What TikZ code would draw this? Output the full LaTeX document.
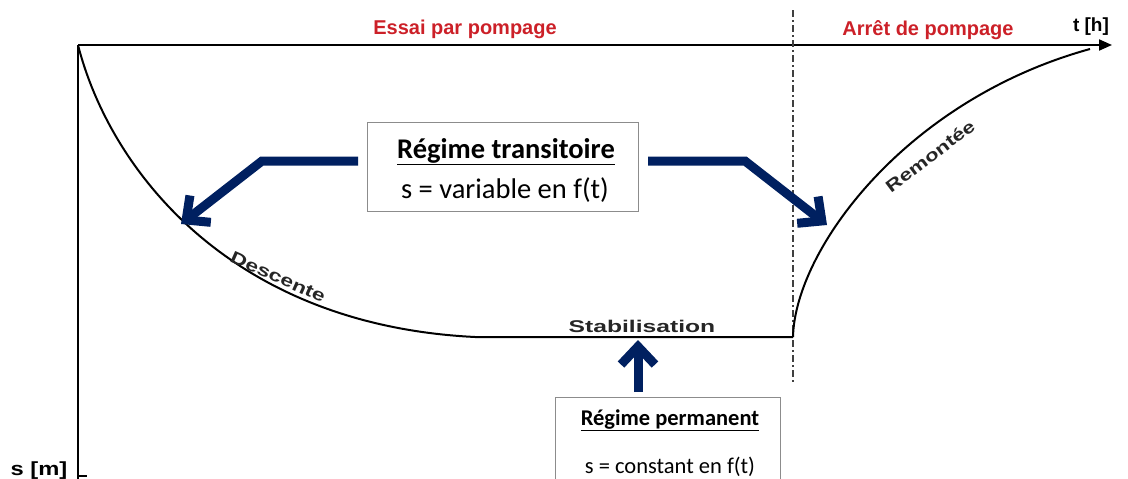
\documentclass[tikz,border=0pt]{standalone}
\usepackage{fontspec}
\setmainfont{Liberation Sans}
\newfontfamily\calfont{Carlito}
\usetikzlibrary{arrows.meta}
\definecolor{navy}{RGB}{0,32,96}
\definecolor{redlab}{RGB}{204,32,40}
\definecolor{boxgray}{RGB}{140,140,140}
\begin{document}
\begin{tikzpicture}[x=1pt,y=-1pt,
  axis/.style={line width=2pt,black},
  curveline/.style={line width=2pt,black},
  phase/.style={text=redlab,font=\fontsize{20}{22}\selectfont\bfseries,inner sep=0pt},
  curvelab/.style={font=\fontsize{17}{19}\selectfont\bfseries,inner sep=0pt,text=black!85},
  axislab/.style={font=\fontsize{19}{21}\selectfont\bfseries,inner sep=0pt},
  infobox/.style={draw=boxgray,line width=1pt,fill=white,inner sep=0pt},
  boxtext/.style={font=\calfont\fontsize{28.5}{30}\selectfont,inner sep=0pt,anchor=base},
  boxtextsmall/.style={font=\calfont\fontsize{22.5}{24}\selectfont,inner sep=0pt,anchor=base},
  bigarrow/.style={line width=9pt,navy,-{Straight Barb[length=18pt,width=34pt]}}]
\useasboundingbox (0,0) rectangle (1128,479);
% axes
\coordinate (O) at (78,45);
\coordinate (tend) at (1112,45);
\coordinate (send) at (78,482);
\coordinate (stick) at (87,476);
\draw[axis,-{Triangle[length=13pt,width=11pt]}] (O) -- (tend);
\draw[axis] (O) -- (send);
\draw[line width=1.5pt] (78,476) -- (stick);
% dash-dot line
\coordinate (dtop) at (793,10);
\coordinate (dbot) at (793,382);
\draw[line width=1.8pt,black!75,dash pattern=on 7pt off 3pt on 2pt off 3pt] (dtop) -- (dbot);
% curves
\coordinate (stabA) at (475,337);
\coordinate (stabB) at (793,337);
\coordinate (topR) at (1090,49);
\draw[curveline] (O) .. controls (110,170) and (230,325) .. (stabA) -- (stabB);
\draw[curveline] (stabB) .. controls (795,250) and (905,100) .. (topR);
% labels
\node[phase] (essai) at (465,29) {Essai par pompage};
\node[phase] (arret) at (928,30) {Arrêt de pompage};
\node[axislab] (tlab) at (1091,27) {t [h]};
\node[axislab] (slab) at (39,471) {\scalebox{1.25}[1]{s [m]}};
\node[curvelab] (stab) at (642,326) {\scalebox{1.45}[1]{Stabilisation}};
\node[curvelab,rotate=-24] (desc) at (278,277) {\scalebox{1.35}[1]{Descente}};
\node[curvelab,rotate=37] (rem) at (930,156) {\scalebox{1.3}[1]{Remontée}};
% boxes
\node[infobox,minimum width=271pt,minimum height=89pt] (trans) at (502.5,166.5) {};
\node[boxtext] (transA) at (506,158) {\textbf{\underline{Régime transitoire}}};
\node[boxtext] (transB) at (505,198) {s = variable en f(t)};
\node[infobox,minimum width=225pt,minimum height=100pt] (perm) at (667.5,447) {};
\node[boxtextsmall] (permA) at (670,425) {\textbf{\underline{Régime permanent}}};
\node[boxtextsmall] (permB) at (670,473) {s = constant en f(t)};
% arrows
\coordinate (la1) at (358,161);
\coordinate (la2) at (262,161);
\coordinate (la3) at (181,224);
\coordinate (ra1) at (648,161);
\coordinate (ra2) at (745,161);
\coordinate (ra3) at (827,225);
\coordinate (ua1) at (638,392);
\coordinate (ua2) at (638,340);
\draw[bigarrow] (la1) -- (la2) -- (la3);
\draw[bigarrow] (ra1) -- (ra2) -- (ra3);
\draw[bigarrow] (ua1) -- (ua2);
\end{tikzpicture}
\end{document}
